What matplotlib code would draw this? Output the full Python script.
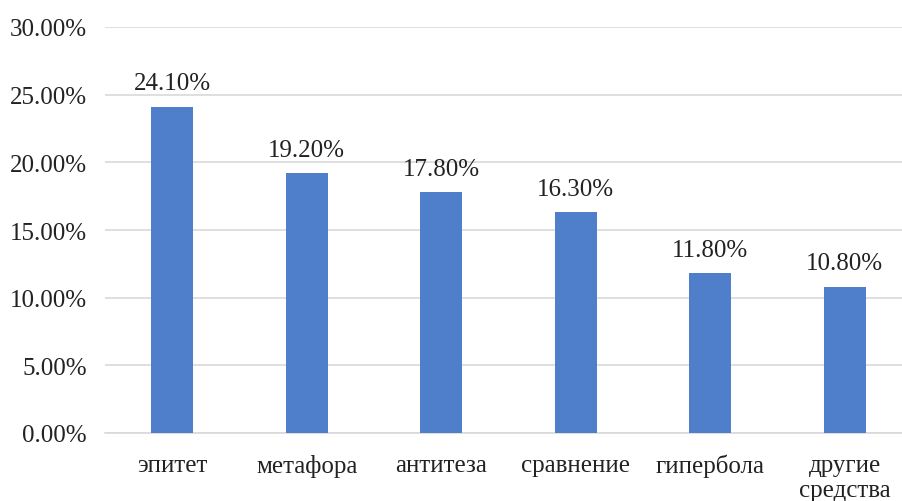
import matplotlib.pyplot as plt
from matplotlib.ticker import FuncFormatter

categories = ['эпитет', 'метафора', 'антитеза', 'сравнение', 'гипербола', 'другие\nсредства']
values = [24.10, 19.20, 17.80, 16.30, 11.80, 10.80]
yticks = [0, 5, 10, 15, 20, 25, 30]

plt.rcParams['font.family'] = ['Liberation Serif', 'DejaVu Serif']

fig = plt.figure(figsize=(9.03, 5.02), dpi=100)
ax = fig.add_axes([105 / 903, 68 / 502, 807 / 903, 406 / 502])

x = range(len(categories))
bars = ax.bar(x, values, width=0.31, color='#4f7ecb', zorder=3)
ax.bar_label(bars, labels=[f'{v:.2f}%' for v in values], padding=9,
             fontsize=18, color='#222222')

ax.set_xlim(-0.5, len(categories) - 0.5)
ax.set_ylim(0, 30)
ax.set_yticks(yticks)
ax.yaxis.set_major_formatter(FuncFormatter(lambda v, p: f'{v:.2f}%'))
ax.set_xticks(list(x))
ax.set_xticklabels(categories, linespacing=1.2)

ax.grid(axis='y', color='#d9d9d9', linewidth=1.2, zorder=0)
for s in ['top', 'right', 'left']:
    ax.spines[s].set_visible(False)
ax.spines['bottom'].set_color('#d9d9d9')
ax.spines['bottom'].set_linewidth(1.2)
ax.tick_params(axis='both', length=0, labelsize=18, colors='#222222')
ax.tick_params(axis='x', pad=15)
ax.tick_params(axis='y', pad=13)

fig.savefig('out.png', dpi=100)
